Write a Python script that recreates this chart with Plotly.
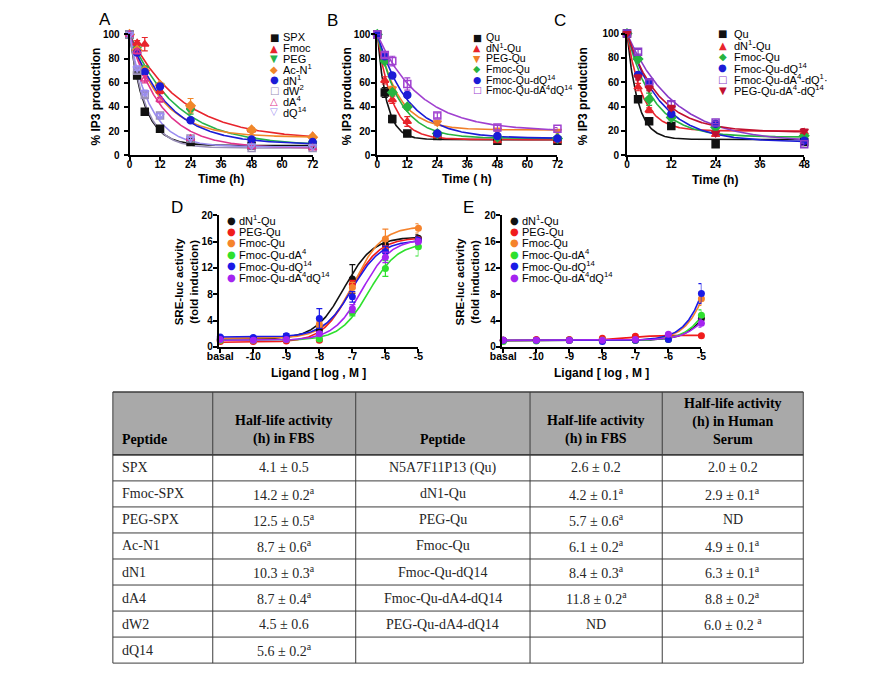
import numpy as np
import plotly.graph_objects as go

W, H = 869, 675
def px(x): return x / W
def py(y): return 1 - y / H

ARIAL = "Arial, Liberation Sans, sans-serif"
SERIF = "Liberation Serif, Times New Roman, serif"
GLYPH = "DejaVu Sans"

# ================= DATA =================
# ---- Panel A : SPX analogues in FBS ----
A_time = [0, 3, 6, 12, 24, 48, 72]
A_names = ["SPX", "Fmoc", "PEG", "Ac-N<sup>1</sup>", "dN<sup>1</sup>", "dW<sup>2</sup>", "dA<sup>4</sup>", "dQ<sup>14</sup>"]
A_SPX   = [100, 66, 36, 22, 11, 8, 8]
A_Fmoc  = [100, 93, 92, 53, 40, 21, 16]
A_PEG   = [100, 88, 72, 58, 37, 13, 10]
A_AcN1  = [100, 87, 70, 58, 41, 21, 15]
A_dN1   = [100, 85, 69, 57, 29, 13, 11]
A_dW2   = [100, 70, 50, 33, 14, 6, 6]
A_dA4   = [100, 86, 63, 46, 14, 7, 6]
A_dQ14  = [100, 72, 52, 33, 14, 8, 7]
A_err = [
    [0, 2, 2, 1.5, 1, 1, 1],
    [0, 2, 5.5, 2, 2, 1.5, 1],
    [0, 2, 2, 2, 3, 1, 1],
    [0, 2, 2, 2, 6, 1.5, 1],
    [0, 2, 2, 2, 1.5, 1, 1],
    [0, 2, 2, 2, 1, 1, 1],
    [0, 2, 3, 2, 1, 1, 1],
    [0, 2, 2, 2, 1, 1, 1],
]
A_halflife = [4.1, 14.2, 12.5, 8.7, 10.3, 4.5, 8.7, 5.6]
A_plateau  = [8, 13, 8, 15, 9, 6, 6, 7]

# ---- Panel B : Qu analogues in FBS ----
B_time = [0, 3, 6, 12, 24, 48, 72]
B_names = ["Qu", "dN<sup>1</sup>-Qu", "PEG-Qu", "Fmoc-Qu", "Fmoc-Qu-dQ<sup>14</sup>", "Fmoc-Qu-dA<sup>4</sup>dQ<sup>14</sup>"]
B_Qu       = [100, 52, 30, 18, 16, 12, 12]
B_dN1Qu    = [100, 62, 46, 28, 16, 12, 12]
B_PEGQu    = [100, 80, 55, 40, 27, 21, 20]
B_FmocQu   = [100, 78, 52, 40, 18, 15, 14]
B_FmocdQ14 = [100, 82, 66, 50, 18, 16, 14]
B_FmocdA4dQ14 = [100, 83, 78, 59, 33, 23, 22]
B_err = [
    [0, 4, 3, 1, 1, 1, 1],
    [0, 3, 3, 4, 1, 1, 1],
    [0, 2, 2, 2, 2, 1, 1],
    [0, 2, 2, 2, 1, 1, 1],
    [0, 2, 2, 2, 1, 1, 1],
    [0, 2, 4, 5, 2, 2, 1],
]
B_halflife = [2.6, 4.2, 5.7, 6.1, 8.4, 11.8]
B_plateau  = [13, 13, 21, 14, 14, 20]

# ---- Panel C : Qu analogues in human serum ----
C_time = [0, 3, 6, 12, 24, 48]
C_names = ["Qu", "dN<sup>1</sup>-Qu", "Fmoc-Qu", "Fmoc-Qu-dQ<sup>14</sup>", "Fmoc-Qu-dA<sup>4</sup>-dQ<sup>1</sup>·", "PEG-Qu-dA<sup>4</sup>-dQ<sup>14</sup>"]
C_Qu        = [100, 46, 28, 24, 9, 11]
C_dN1Qu     = [100, 56, 37, 33, 17, 19]
C_FmocQu    = [100, 79, 46, 31, 23, 16]
C_FmocdQ14  = [100, 66, 59, 34, 26, 12]
C_FmocdA4dQ14 = [100, 85, 60, 42, 27, 9]
C_PEGdA4dQ14  = [100, 64, 55, 39, 18, 20]
C_err = [
    [0, 1, 1, 1, 1, 1],
    [0, 3, 2, 2, 1, 2],
    [0, 2, 5, 2, 2, 1],
    [0, 2, 2, 2, 1, 1],
    [0, 2, 2, 2, 1, 1],
    [0, 2, 2, 2, 1, 2],
]
C_halflife = [2.0, 2.9, 4.9, 6.3, 8.8, 6.0]
C_plateau  = [13, 20, 15, 11, 11, 19]

# ---- Panels D/E : SRE-luc dose response ----
DE_logdose = [-11, -10, -9, -8, -7, -6, -5]     # -11 plotted as "basal"
DE_tickvals = [-11, -10, -9, -8, -7, -6, -5]
DE_ticktext = ["basal", "-10", "-9", "-8", "-7", "-6", "-5"]
DE_names = ["dN<sup>1</sup>-Qu", "PEG-Qu", "Fmoc-Qu", "Fmoc-Qu-dA<sup>4</sup>", "Fmoc-Qu-dQ<sup>14</sup>", "Fmoc-Qu-dA<sup>4</sup>dQ<sup>14</sup>"]
D_dN1Qu   = [1.2, 1.1, 1.3, 2.5, 10.3, 15.5, 16.5]
D_PEGQu   = [0.8, 0.8, 0.9, 1.0, 9.5, 14.8, 16.3]
D_FmocQu  = [1.0, 1.0, 1.2, 3.4, 9.0, 16.4, 18.0]
D_dA4     = [1.0, 1.0, 1.1, 1.2, 5.2, 11.9, 15.2]
D_dQ14    = [1.5, 1.4, 1.7, 4.3, 7.6, 14.5, 16.2]
D_dA4dQ14 = [1.1, 1.0, 1.1, 2.0, 5.8, 13.6, 16.0]
D_err = [
    [0.2, 0.2, 0.2, 0.4, 2.2, 0.6, 0.5],
    [0.2, 0.2, 0.2, 0.2, 0.6, 0.6, 0.5],
    [0.2, 0.2, 0.2, 0.4, 0.8, 1.5, 0.7],
    [0.2, 0.2, 0.2, 0.2, 0.5, 1.2, 1.4],
    [0.2, 0.2, 0.3, 1.5, 0.8, 0.8, 0.5],
    [0.2, 0.2, 0.2, 0.3, 0.6, 0.8, 0.5],
]
# fitted sigmoid parameters: bottom, top, logEC50
D_fit = [(1.2, 16.7, -7.25), (0.7, 16.6, -7.05), (1.3, 18.3, -6.95),
         (1.0, 15.8, -6.5), (1.5, 16.2, -7.0), (1.0, 16.4, -6.7)]

E_dN1Qu   = [1.0, 1.0, 1.0, 1.0, 1.0, 1.2, 4.3]
E_PEGQu   = [1.0, 1.1, 1.1, 1.3, 1.6, 1.6, 1.7]
E_FmocQu  = [1.0, 1.0, 1.0, 1.0, 1.0, 1.3, 7.3]
E_dA4     = [0.8, 0.9, 1.0, 1.0, 1.0, 1.1, 4.8]
E_dQ14    = [1.0, 1.0, 1.0, 0.8, 1.0, 1.1, 8.1]
E_dA4dQ14 = [1.0, 1.0, 1.0, 1.0, 1.1, 1.9, 3.6]
E_err = [
    [0.1, 0.1, 0.1, 0.1, 0.1, 0.2, 0.6],
    [0.1, 0.1, 0.1, 0.1, 0.2, 0.1, 0.2],
    [0.1, 0.1, 0.1, 0.1, 0.1, 0.2, 1.0],
    [0.1, 0.1, 0.1, 0.1, 0.1, 0.1, 0.8],
    [0.1, 0.1, 0.1, 0.1, 0.1, 0.1, 1.5],
    [0.1, 0.1, 0.1, 0.1, 0.1, 0.2, 0.6],
]
E_fit = [(0.95, 27, -4.15), (0.95, 1.75, -7.3), (0.95, 51, -4.15),
         (0.95, 31, -4.15), (0.95, 58, -4.15), (1.0, 18, -4.3)]

# ---- Table ----
T_header = [["Peptide"], ["Half-life activity", "(h) in FBS"], ["Peptide"],
            ["Half-life activity", "(h) in FBS"], ["Half-life activity", "(h) in Human", "Serum"]]
T_pep1 = ["SPX", "Fmoc-SPX", "PEG-SPX", "Ac-N1", "dN1", "dA4", "dW2", "dQ14"]
T_fbs1 = ["4.1 ± 0.5", "14.2 ± 0.2<sup>a</sup>", "12.5 ± 0.5<sup>a</sup>", "8.7 ± 0.6<sup>a</sup>",
          "10.3 ± 0.3<sup>a</sup>", "8.7 ± 0.4<sup>a</sup>", "4.5 ± 0.6", "5.6 ± 0.2<sup>a</sup>"]
T_pep2 = ["N5A7F11P13 (Qu)", "dN1-Qu", "PEG-Qu", "Fmoc-Qu", "Fmoc-Qu-dQ14",
          "Fmoc-Qu-dA4-dQ14", "PEG-Qu-dA4-dQ14", ""]
T_fbs2 = ["2.6 ± 0.2", "4.2 ± 0.1<sup>a</sup>", "5.7 ± 0.6<sup>a</sup>", "6.1 ± 0.2<sup>a</sup>",
          "8.4 ± 0.3<sup>a</sup>", "11.8 ± 0.2<sup>a</sup>", "ND", ""]
T_hs2 = ["2.0 ± 0.2", "2.9 ± 0.1<sup>a</sup>", "ND", "4.9 ± 0.1<sup>a</sup>",
         "6.3 ± 0.1<sup>a</sup>", "8.8 ± 0.2<sup>a</sup>", "6.0 ± 0.2 <sup>a</sup>", ""]

# ================= STYLES =================
A_colors = ["#111111", "#e8242c", "#27b34b", "#f0872a", "#1c1cd6", "#9a90b8", "#e0338c", "#9a8cf0"]
A_symbols = ["square", "triangle-up", "triangle-down", "diamond", "circle", "square-open", "triangle-up-open", "triangle-down-open"]
A_glyphs = ["■", "▲", "▼", "◆", "●", "□", "△", "▽"]

B_colors = ["#111111", "#e8242c", "#f07f2a", "#27b340", "#1c1cd6", "#a040d0"]
B_symbols = ["square", "triangle-up", "triangle-down", "diamond", "circle", "square-open"]
B_glyphs = ["■", "▲", "▼", "◆", "●", "□"]

C_colors = ["#111111", "#e8242c", "#27b340", "#1c1cd6", "#8a3cc8", "#c01030"]
C_symbols = ["square", "triangle-up", "diamond", "circle", "square-open", "triangle-down"]
C_glyphs = ["■", "▲", "◆", "●", "□", "▼"]

DE_colors = ["#111111", "#f01c1c", "#f5832c", "#2ee02e", "#1a1ae6", "#a424f0"]

fig = go.Figure()

def add_decay_panel(times, series, errs, halflife, plateau, colors, symbols, xa, ya, tmax):
    tt = np.linspace(0, tmax, 300)
    for i in range(len(series)):
        k = np.log(2) / halflife[i]
        yy = plateau[i] + (100 - plateau[i]) * np.exp(-k * tt)
        fig.add_trace(go.Scatter(x=tt, y=yy, mode="lines", xaxis=xa, yaxis=ya,
                                 line=dict(color=colors[i], width=1.6), showlegend=False,
                                 hoverinfo="skip", cliponaxis=False))
    for i in range(len(series)):
        fig.add_trace(go.Scatter(x=times, y=series[i], mode="markers", xaxis=xa, yaxis=ya,
                                 marker=dict(symbol=symbols[i], color=colors[i], size=7,
                                             line=dict(color=colors[i], width=1.5)),
                                 error_y=dict(type="data", array=errs[i], visible=True,
                                              color=colors[i], thickness=1.2, width=3),
                                 showlegend=False, cliponaxis=False))

add_decay_panel(A_time, [A_SPX, A_Fmoc, A_PEG, A_AcN1, A_dN1, A_dW2, A_dA4, A_dQ14], A_err,
                A_halflife, A_plateau, A_colors, A_symbols, "x", "y", 72)
add_decay_panel(B_time, [B_Qu, B_dN1Qu, B_PEGQu, B_FmocQu, B_FmocdQ14, B_FmocdA4dQ14], B_err,
                B_halflife, B_plateau, B_colors, B_symbols, "x2", "y2", 72)
add_decay_panel(C_time, [C_Qu, C_dN1Qu, C_FmocQu, C_FmocdQ14, C_FmocdA4dQ14, C_PEGdA4dQ14], C_err,
                C_halflife, C_plateau, C_colors, C_symbols, "x3", "y3", 48)

def add_dose_panel(series, errs, fits, xa, ya):
    xx = np.linspace(-11, -5, 300)
    for i in range(len(series)):
        b, t, c = fits[i]
        yy = b + (t - b) / (1 + 10 ** (c - xx))
        fig.add_trace(go.Scatter(x=xx, y=yy, mode="lines", xaxis=xa, yaxis=ya,
                                 line=dict(color=DE_colors[i], width=1.6), showlegend=False,
                                 hoverinfo="skip", cliponaxis=False))
    for i in range(len(series)):
        fig.add_trace(go.Scatter(x=DE_logdose, y=series[i], mode="markers", xaxis=xa, yaxis=ya,
                                 marker=dict(symbol="circle", color=DE_colors[i], size=7),
                                 error_y=dict(type="data", array=errs[i], visible=True,
                                              color=DE_colors[i], thickness=1.2, width=3),
                                 showlegend=False, cliponaxis=False))

add_dose_panel([D_dN1Qu, D_PEGQu, D_FmocQu, D_dA4, D_dQ14, D_dA4dQ14], D_err, D_fit, "x4", "y4")
add_dose_panel([E_dN1Qu, E_PEGQu, E_FmocQu, E_dA4, E_dQ14, E_dA4dQ14], E_err, E_fit, "x5", "y5")

# ---- Axes ----
def axis(dom, rng, tickvals, anchor, ticktext=None, fs=10, standoff=0):
    d = dict(domain=dom, range=rng, anchor=anchor, showline=True, linecolor="black", linewidth=1.8,
             ticks="outside", ticklen=4, tickwidth=1.5, tickcolor="black", showgrid=False,
             zeroline=False, tickvals=tickvals, fixedrange=True, ticklabelstandoff=standoff,
             tickfont=dict(family=ARIAL, size=fs, color="black", weight="bold"))
    if ticktext is not None:
        d["ticktext"] = ticktext
    return d

yticks = [0, 20, 40, 60, 80, 100]
fig.update_layout(
    xaxis=axis([px(120), px(307)], [0, 72], [0, 12, 24, 36, 48, 60, 72], "y", standoff=-5),
    yaxis=axis([py(152), py(29)], [0, 100], yticks, "x", standoff=2),
    xaxis2=axis([px(373), px(557)], [0, 72], [0, 12, 24, 36, 48, 60, 72], "y2", standoff=-5),
    yaxis2=axis([py(152), py(29)], [0, 100], yticks, "x2", standoff=-1),
    xaxis3=axis([px(628), px(809)], [0, 48], [0, 12, 24, 36, 48], "y3", standoff=-5),
    yaxis3=axis([py(152), py(28)], [0, 100], yticks, "x3"),
    xaxis4=axis([px(211), px(415)], [-11.05, -5], DE_tickvals, "y4", DE_ticktext, fs=10.5, standoff=-5),
    yaxis4=axis([py(347), py(213)], [0, 20], [0, 4, 8, 12, 16, 20], "x4", standoff=-2),
    xaxis5=axis([px(500), px(704)], [-11.05, -5], DE_tickvals, "y5", DE_ticktext, fs=10.5, standoff=-5),
    yaxis5=axis([py(347), py(213)], [0, 20], [0, 4, 8, 12, 16, 20], "x5", standoff=-2),
)

ann = []
shapes = []
def text(x, y, s, size=12, bold=True, angle=0, xanchor="center", yanchor="middle",
         color="black", family=ARIAL):
    ann.append(dict(x=px(x), y=py(y), xref="paper", yref="paper", text=s, showarrow=False,
                    textangle=angle, xanchor=xanchor, yanchor=yanchor,
                    font=dict(family=family, size=size, color=color, weight="bold" if bold else "normal")))

# panel letters
for lab, x, y in [("A", 95, 14), ("B", 327, 15), ("C", 560, 15), ("D", 168, 205), ("E", 466, 205)]:
    text(x, y, lab, size=17, bold=False)
# axis titles
text(86, 92, "% IP3 production", angle=-90, size=12)
text(342, 92, "% IP3 production", angle=-90, size=12)
text(583, 92, "% IP3 production", angle=-90, size=12)
text(213, 176, "Time (h)")
text(465, 176, "Time ( h)")
text(718, 177, "Time (h)")
text(178, 280, "SRE-luc activity<br>(fold induction)", angle=-90, size=11.5)
text(465, 280, "SRE-luc activity<br>(fold induction)", angle=-90, size=11.5)
text(313, 374, "Ligand [ log , M ]")
text(602, 374, "Ligand [ log , M ]")

def legend(names, colors, glyphs, sx, tx, y0, dy, size):
    for i, nm in enumerate(names):
        yy = y0 + i * dy
        text(sx, yy, glyphs[i], size=size - 1, bold=False, color=colors[i], family=GLYPH)
        text(tx, yy, nm, size=size, bold=False, xanchor="left")

legend(A_names, A_colors, A_glyphs, 268, 275, 32, 10.8, 11)
legend(B_names, B_colors, B_glyphs, 475, 482, 32, 10.6, 10.5)
legend(C_names, C_colors, C_glyphs, 726, 735, 28.5, 11.5, 11)
legend(DE_names, DE_colors, ["●"] * 6, 224, 230, 218, 11.6, 11)
legend(DE_names, DE_colors, ["●"] * 6, 513, 519, 218, 11.6, 11)

# ---- Table (drawn with shapes + text) ----
col_edges = [103, 205, 351, 529, 664, 808]
tab_top, head_bot, row_h = 393, 457, 26.5
columns = [T_pep1, T_fbs1, T_pep2, T_fbs2, T_hs2]
n_rows = len(T_pep1)
tab_bot = head_bot + n_rows * row_h
LINE = "#3c3c3c"

shapes.append(dict(type="rect", xref="paper", yref="paper", x0=px(col_edges[0]), x1=px(col_edges[-1]),
                   y0=py(head_bot), y1=py(tab_top), fillcolor="#a9a9a9", line=dict(width=0), layer="below"))
# horizontal lines
for yy, w in [(tab_top, 1.6), (head_bot, 1.6)] + [(head_bot + r * row_h, 1.0) for r in range(1, n_rows + 1)]:
    shapes.append(dict(type="line", xref="paper", yref="paper", x0=px(col_edges[0]), x1=px(col_edges[-1]),
                       y0=py(yy), y1=py(yy), line=dict(color=LINE, width=w)))
# vertical lines
for xx in col_edges:
    shapes.append(dict(type="line", xref="paper", yref="paper", x0=px(xx), x1=px(xx),
                       y0=py(tab_bot), y1=py(tab_top), line=dict(color=LINE, width=1.0)))

# header text (bottom aligned)
for c, lines in enumerate(T_header):
    s = "<br>".join(lines)
    if c == 0:
        text(col_edges[0] + 7, head_bot - 6, s, size=14, family=SERIF, xanchor="left", yanchor="bottom")
    else:
        text((col_edges[c] + col_edges[c + 1]) / 2, head_bot - 6, s, size=14, family=SERIF,
             yanchor="bottom")
# cell text
for c, col in enumerate(columns):
    for r, val in enumerate(col):
        if not val:
            continue
        yy = head_bot + (r + 0.5) * row_h
        if c == 0:
            text(col_edges[0] + 7, yy, val, size=14, bold=False, family=SERIF, xanchor="left", color="#262626")
        else:
            text((col_edges[c] + col_edges[c + 1]) / 2, yy, val, size=14, bold=False, family=SERIF,
                 color="#262626")

fig.update_layout(annotations=ann, shapes=shapes, width=W, height=H, margin=dict(l=0, r=0, t=0, b=0),
                  paper_bgcolor="white", plot_bgcolor="white", showlegend=False)

fig.write_html("out.html")
